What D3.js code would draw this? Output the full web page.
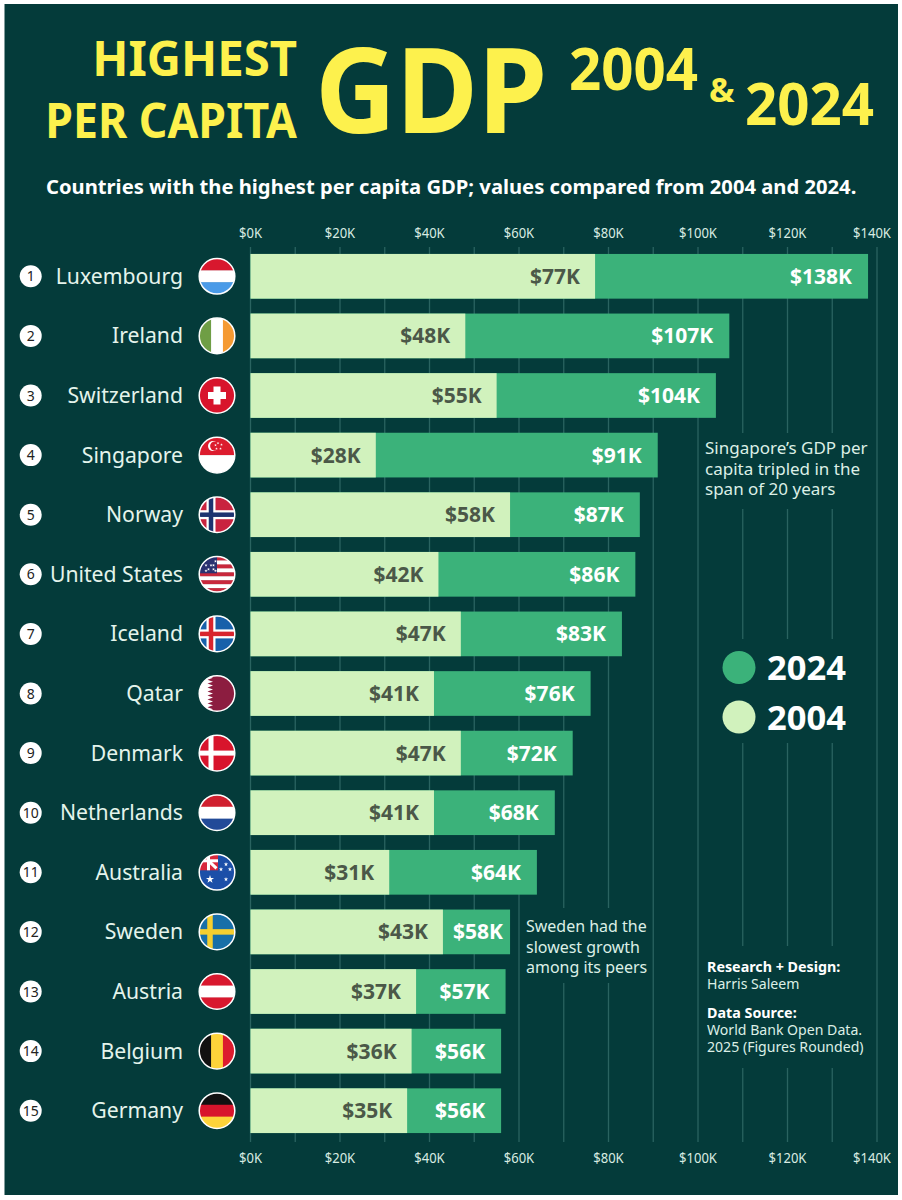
<!DOCTYPE html>
<html>
<head>
<meta charset="utf-8">
<script src="https://cdn.jsdelivr.net/npm/d3@7"></script>
<style>
html, body { margin: 0; padding: 0; background: #fff; }
svg { display: block; }
text { font-family: "Noto Sans", "Open Sans", sans-serif; }
</style>
</head>
<body>
<svg id="chart" width="902" height="1200"></svg>
<script>
var countries = ["Luxembourg", "Ireland", "Switzerland", "Singapore", "Norway", "United States", "Iceland", "Qatar", "Denmark", "Netherlands", "Australia", "Sweden", "Austria", "Belgium", "Germany"];
var values2004 = [77, 48, 55, 28, 58, 42, 47, 41, 47, 41, 31, 43, 37, 36, 35];
var values2024 = [138, 107, 104, 91, 87, 86, 83, 76, 72, 68, 64, 58, 57, 56, 56];
var xTicks = [0, 20, 40, 60, 80, 100, 120, 140];
var gridValues = [0, 10, 20, 30, 40, 50, 60, 70, 80, 90, 100, 110, 120, 130, 140];
var legendYears = ["2024", "2004"];

var BG = "#043b3a", LIGHT = "#d1f2bd", DARK = "#3bb27a", YELLOW = "#fdf14d", INK = "#4b5848";

var svg = d3.select("#chart");
svg.append("rect").attr("x", 4.5).attr("y", 4).attr("width", 893.5).attr("height", 1191).attr("fill", BG);

var x = d3.scaleLinear().domain([0, 140]).range([250.5, 877]);
var y = d3.scaleBand().domain(countries).range([246.5, 1140.5]).paddingInner(0.25).paddingOuter(0.125);

// narrows a text to a share of its natural width, the poster's type is a bit condensed
function squeeze(sel, factor) {
    sel.each(function() {
        var w = this.getComputedTextLength();
        d3.select(this).attr("textLength", w * factor).attr("lengthAdjust", "spacingAndGlyphs");
    });
    return sel;
}

// gridlines
svg.append("g").selectAll("line").data(gridValues).join("line")
    .attr("x1", function(d) { return x(d); }).attr("x2", function(d) { return x(d); })
    .attr("y1", 247).attr("y2", 1142)
    .attr("stroke", "#2a6360").attr("stroke-width", 1.3);

// the gridlines break behind the notes
function cover(px, py, w, h) {
    svg.append("rect").attr("x", px).attr("y", py).attr("width", w).attr("height", h).attr("fill", BG);
}
cover(720, 433, 130, 76);
cover(720, 639, 130, 104);
cover(550, 908, 75, 75);
cover(720, 946, 130, 122);

// axes, top and bottom
function drawAxis(yPos) {
    var t = svg.append("g").selectAll("text").data(xTicks).join("text")
        .attr("x", function(d) { return d === 140 ? x(d) - 5 : x(d); })
        .attr("y", yPos)
        .attr("text-anchor", "middle").attr("fill", "#d9ece2").attr("font-size", 14)
        .text(function(d) { return "$" + d + "K"; });
    squeeze(t, 0.93);
}
drawAxis(238);
drawAxis(1162.5);

// bars
var rows = svg.append("g").selectAll("g").data(countries).join("g");
rows.append("rect").attr("x", x(0)).attr("y", function(d) { return y(d); })
    .attr("height", y.bandwidth())
    .attr("width", function(d, i) { return x(values2024[i]) - x(0); }).attr("fill", DARK);
rows.append("rect").attr("x", x(0)).attr("y", function(d) { return y(d); })
    .attr("height", y.bandwidth())
    .attr("width", function(d, i) { return x(values2004[i]) - x(0); }).attr("fill", LIGHT);
rows.append("text").attr("x", function(d, i) { return x(values2004[i]) - 15; })
    .attr("y", function(d) { return y(d) + y.bandwidth() / 2 + 7.5; })
    .attr("text-anchor", "end").attr("font-size", 21).attr("font-weight", 700).attr("fill", INK)
    .text(function(d, i) { return "$" + values2004[i] + "K"; });
rows.append("text")
    .attr("x", function(d, i) {
        // a short green segment leaves less room, so its label sits nearer the end
        var narrow = x(values2024[i]) - x(values2004[i]) < 80;
        return x(values2024[i]) - (narrow ? 7 : 16);
    })
    .attr("y", function(d) { return y(d) + y.bandwidth() / 2 + 7.5; })
    .attr("text-anchor", "end").attr("font-size", 21).attr("font-weight", 700).attr("fill", "#fff")
    .text(function(d, i) { return "$" + values2024[i] + "K"; });

// names and rank badges
rows.append("text").attr("x", 183)
    .attr("y", function(d) { return y(d) + y.bandwidth() / 2 + 7.5; })
    .attr("text-anchor", "end").attr("font-size", 21.2).attr("fill", "#e4f4ec")
    .text(function(d) { return d; });
rows.append("circle").attr("cx", 30.7).attr("cy", function(d) { return y(d) + y.bandwidth() / 2; })
    .attr("r", 11).attr("fill", "#fff");
rows.append("text").attr("x", 30.7).attr("y", function(d) { return y(d) + y.bandwidth() / 2 + 5; })
    .attr("text-anchor", "middle").attr("font-size", 14).attr("fill", "#222")
    .text(function(d, i) { return i + 1; });

// flags, clipped to a circle
var R = 17.8;
var defs = svg.append("defs");
defs.append("clipPath").attr("id", "flagClip").append("circle").attr("r", R);

function stripes(g, cols, vertical) {
    var s = d3.scaleBand().domain(d3.range(cols.length)).range([-R, R]);
    cols.forEach(function(c, i) {
        if (vertical) g.append("rect").attr("x", s(i)).attr("y", -R).attr("width", s.bandwidth() + 0.5).attr("height", 2 * R).attr("fill", c);
        else g.append("rect").attr("x", -R).attr("y", s(i)).attr("width", 2 * R).attr("height", s.bandwidth() + 0.5).attr("fill", c);
    });
}
function field(g, colour) {
    g.append("rect").attr("x", -R).attr("y", -R).attr("width", 2 * R).attr("height", 2 * R).attr("fill", colour);
}
function cross(g, bg, colour, w, cx, inner, innerW) {
    field(g, bg);
    g.append("rect").attr("x", -R).attr("y", -w / 2).attr("width", 2 * R).attr("height", w).attr("fill", colour);
    g.append("rect").attr("x", cx - w / 2).attr("y", -R).attr("width", w).attr("height", 2 * R).attr("fill", colour);
    if (inner) {
        g.append("rect").attr("x", -R).attr("y", -innerW / 2).attr("width", 2 * R).attr("height", innerW).attr("fill", inner);
        g.append("rect").attr("x", cx - innerW / 2).attr("y", -R).attr("width", innerW).attr("height", 2 * R).attr("fill", inner);
    }
}
function star(g, cx, cy, r, fill) {
    g.append("path").attr("d", d3.symbol(d3.symbolStar, r * r * 3)()).attr("transform", "translate(" + cx + "," + cy + ")").attr("fill", fill);
}
var flagDraw = {
    "Luxembourg": function(g) { stripes(g, ["#d8182e", "#fff", "#4a9be8"]); },
    "Ireland": function(g) { stripes(g, ["#6f9e45", "#fff", "#f59a32"], true); },
    "Switzerland": function(g) {
        field(g, "#d8142c");
        g.append("rect").attr("x", -9).attr("y", -3.5).attr("width", 18).attr("height", 7).attr("fill", "#fff");
        g.append("rect").attr("x", -3.5).attr("y", -9).attr("width", 7).attr("height", 18).attr("fill", "#fff");
    },
    "Singapore": function(g) {
        stripes(g, ["#dc1c2e", "#fff"]);
        g.append("circle").attr("cx", -4).attr("cy", -9).attr("r", 5).attr("fill", "#fff");
        g.append("circle").attr("cx", -2.3).attr("cy", -9).attr("r", 4.6).attr("fill", "#dc1c2e");
        [[0, -12], [3.5, -10.5], [2.5, -6.5], [-1.5, -6.5], [-2.5, -10]].forEach(function(p) { star(g, p[0] + 1, p[1], 0.9, "#fff"); });
    },
    "Norway": function(g) { cross(g, "#c9233f", "#fff", 9, -6, "#1d3370", 4.5); },
    "United States": function(g) {
        stripes(g, ["#c8283c", "#fff", "#c8283c", "#fff", "#c8283c", "#fff", "#c8283c", "#fff", "#c8283c"]);
        g.append("rect").attr("x", -R).attr("y", -R).attr("width", R).attr("height", R - 1).attr("fill", "#2a3170");
        [[-11, -9], [-6, -9], [-1.5, -13], [-8.5, -5], [-3.5, -5], [-3.5, -9], [-11, -3.5], [-1.5, -3.5]].forEach(function(p) { star(g, p[0], p[1], 1, "#fff"); });
    },
    "Iceland": function(g) { cross(g, "#1760aa", "#fff", 9, -6, "#d8242e", 4.5); },
    "Qatar": function(g) {
        field(g, "#8c1d40");
        var teeth = d3.range(9);
        var band = d3.scaleBand().domain(teeth).range([-R, R]);
        var pts = [[-R, -R]];
        teeth.forEach(function(t) {
            pts.push([-9.5, band(t)], [-4, band(t) + band.bandwidth() / 2], [-9.5, band(t) + band.bandwidth()]);
        });
        pts.push([-R, R]);
        g.append("path").attr("d", d3.line()(pts) + "Z").attr("fill", "#fff");
    },
    "Denmark": function(g) { cross(g, "#d8142c", "#fff", 5, -6); },
    "Netherlands": function(g) { stripes(g, ["#d0202f", "#fff", "#224a98"]); },
    "Australia": function(g) {
        field(g, "#1b4fa8");
        g.append("rect").attr("x", -R).attr("y", -R).attr("width", R + 1).attr("height", R - 2).attr("fill", "#d8283c");
        g.append("path").attr("d", "M-9,-12L-0.5,-4").attr("stroke", "#fff").attr("stroke-width", 3);
        g.append("rect").attr("x", -R).attr("y", -13).attr("width", R + 1).attr("height", 3).attr("fill", "#fff");
        g.append("rect").attr("x", -10).attr("y", -R).attr("width", 3).attr("height", R - 2).attr("fill", "#fff");
        [[-7, 7, 2.6], [4, -3, 1.4], [9, -8, 1.4], [13, -3, 1.4], [9, 7, 1.4]].forEach(function(p) { star(g, p[0], p[1], p[2], "#fff"); });
    },
    "Sweden": function(g) { cross(g, "#176fa8", "#f5cf2f", 5.5, -7); },
    "Austria": function(g) { stripes(g, ["#d8182e", "#fff", "#d8182e"]); },
    "Belgium": function(g) { stripes(g, ["#111", "#fdd33a", "#dc1c2e"], true); },
    "Germany": function(g) { stripes(g, ["#111", "#d8142c", "#fdd33a"]); }
};
rows.each(function(d) {
    var g = d3.select(this).append("g")
        .attr("transform", "translate(217," + (y(d) + y.bandwidth() / 2) + ")");
    var inner = g.append("g").attr("clip-path", "url(#flagClip)");
    flagDraw[d](inner);
    g.append("circle").attr("r", R).attr("fill", "none").attr("stroke", "#fff").attr("stroke-width", 1.5);
});

function note(lines, px, py, step, size, weight, fill, factor) {
    var t = svg.append("g").selectAll("text").data(lines).join("text")
        .attr("x", px).attr("y", function(d, i) { return py + i * step; })
        .attr("font-size", size).attr("font-weight", weight || 400).attr("fill", fill || "#dcefe6")
        .text(function(d) { return d; });
    if (factor) squeeze(t, factor);
}
note(["Singapore\u2019s GDP per", "capita tripled in the", "span of 20 years"], 705, 454, 20.5, 17);
note(["Sweden had the", "slowest growth", "among its peers"], 526, 932, 20.5, 17, 400, null, 0.94);
note(["Research + Design:"], 707, 972, 17, 14.3, 700, "#fff");
note(["Harris Saleem"], 707, 989, 17, 14.1);
note(["Data Source:"], 707, 1018, 17, 14.3, 700, "#fff");
note(["World Bank Open Data.", "2025 (Figures Rounded)"], 707, 1035, 17, 14.1);

// legend
var legendColour = d3.scaleOrdinal().domain(legendYears).range([DARK, LIGHT]);
var legendY = d3.scalePoint().domain(legendYears).range([667.5, 717]);
var legend = svg.append("g").selectAll("g").data(legendYears).join("g");
legend.append("circle").attr("cx", 739).attr("cy", function(d) { return legendY(d); }).attr("r", 16.5)
    .attr("fill", function(d) { return legendColour(d); });
legend.append("text").attr("x", 767).attr("y", function(d) { return legendY(d) + 12.5; })
    .attr("font-size", 34.5).attr("font-weight", 700).attr("fill", "#fff")
    .text(function(d) { return d; });

// title
function title(txt, px, py, size, factor, anchor) {
    var t = svg.append("text").attr("x", px).attr("y", py).attr("text-anchor", anchor || "start")
        .attr("font-size", size).attr("font-weight", 700).attr("fill", YELLOW).text(txt);
    squeeze(t, factor);
}
title("HIGHEST", 297, 76, 48, 0.985, "end");
title("PER CAPITA", 297, 138, 48, 0.93, "end");
title("GDP", 315, 133, 119, 0.94);
title("2004", 569, 90, 60, 0.94);
title("&", 709, 102, 34, 1);
title("2024", 745, 125, 60, 0.94);

svg.append("text").attr("x", 46).attr("y", 194).attr("font-size", 20.2).attr("font-weight", 700)
    .attr("fill", "#fff").text("Countries with the highest per capita GDP; values compared from 2004 and 2024.");
</script>
</body>
</html>
